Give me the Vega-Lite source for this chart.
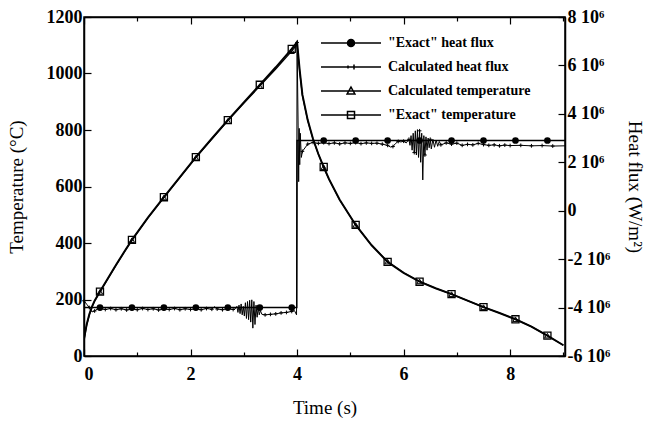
{
  "$schema": "https://vega.github.io/schema/vega-lite/v6.json",
  "width": 481,
  "height": 339,
  "autosize": {"type": "none"},
  "padding": {"left": 84, "top": 17, "right": 82, "bottom": 65},
  "background": "white",
  "config": {
    "font": "Liberation Serif",
    "view": {"stroke": "black", "strokeWidth": 1.5},
    "axis": {
      "grid": false,
      "domainColor": "black",
      "domainWidth": 1.5,
      "tickColor": "black",
      "tickWidth": 1.2,
      "labelFont": "Liberation Serif",
      "labelFontWeight": "bold",
      "labelFontSize": 18,
      "labelColor": "black",
      "titleFont": "Liberation Serif",
      "titleFontWeight": "normal",
      "titleFontSize": 19,
      "titleColor": "black"
    },
    "legend": {
      "orient": "none", "legendX": 236, "legendY": 18, "title": null, "padding": 0,
      "symbolSize": 3600, "symbolStrokeWidth": 1.5, "symbolStrokeColor": "black",
      "labelFont": "Liberation Serif", "labelFontWeight": "bold", "labelFontSize": 14, "labelColor": "black",
      "labelOffset": 6, "rowPadding": 8, "clipHeight": 16
    }
  },
  "datasets": {
    "temp": [
      {"t": 0, "v": 60, "s": "\"Exact\" temperature"},
      {"t": 0.05, "v": 112, "s": "\"Exact\" temperature"},
      {"t": 0.1, "v": 148, "s": "\"Exact\" temperature"},
      {"t": 0.15, "v": 175, "s": "\"Exact\" temperature"},
      {"t": 0.2, "v": 196, "s": "\"Exact\" temperature"},
      {"t": 0.3, "v": 228, "s": "\"Exact\" temperature"},
      {"t": 0.45, "v": 275, "s": "\"Exact\" temperature"},
      {"t": 0.6, "v": 322, "s": "\"Exact\" temperature"},
      {"t": 0.75, "v": 367, "s": "\"Exact\" temperature"},
      {"t": 0.9, "v": 411, "s": "\"Exact\" temperature"},
      {"t": 1.2, "v": 490, "s": "\"Exact\" temperature"},
      {"t": 1.5, "v": 562, "s": "\"Exact\" temperature"},
      {"t": 1.8, "v": 633, "s": "\"Exact\" temperature"},
      {"t": 2.1, "v": 704, "s": "\"Exact\" temperature"},
      {"t": 2.4, "v": 770, "s": "\"Exact\" temperature"},
      {"t": 2.7, "v": 835, "s": "\"Exact\" temperature"},
      {"t": 3.0, "v": 898, "s": "\"Exact\" temperature"},
      {"t": 3.3, "v": 960, "s": "\"Exact\" temperature"},
      {"t": 3.6, "v": 1022, "s": "\"Exact\" temperature"},
      {"t": 3.9, "v": 1087, "s": "\"Exact\" temperature"},
      {"t": 4.0, "v": 1111, "s": "\"Exact\" temperature"},
      {"t": 4.05, "v": 1010, "s": "\"Exact\" temperature"},
      {"t": 4.1, "v": 925, "s": "\"Exact\" temperature"},
      {"t": 4.2, "v": 835, "s": "\"Exact\" temperature"},
      {"t": 4.3, "v": 768, "s": "\"Exact\" temperature"},
      {"t": 4.4, "v": 715, "s": "\"Exact\" temperature"},
      {"t": 4.5, "v": 669, "s": "\"Exact\" temperature"},
      {"t": 4.6, "v": 626, "s": "\"Exact\" temperature"},
      {"t": 4.8, "v": 553, "s": "\"Exact\" temperature"},
      {"t": 5.1, "v": 464, "s": "\"Exact\" temperature"},
      {"t": 5.4, "v": 392, "s": "\"Exact\" temperature"},
      {"t": 5.7, "v": 333, "s": "\"Exact\" temperature"},
      {"t": 6.0, "v": 294, "s": "\"Exact\" temperature"},
      {"t": 6.3, "v": 263, "s": "\"Exact\" temperature"},
      {"t": 6.6, "v": 240, "s": "\"Exact\" temperature"},
      {"t": 6.9, "v": 219, "s": "\"Exact\" temperature"},
      {"t": 7.2, "v": 196, "s": "\"Exact\" temperature"},
      {"t": 7.5, "v": 173, "s": "\"Exact\" temperature"},
      {"t": 7.8, "v": 152, "s": "\"Exact\" temperature"},
      {"t": 8.1, "v": 130, "s": "\"Exact\" temperature"},
      {"t": 8.4, "v": 104, "s": "\"Exact\" temperature"},
      {"t": 8.7, "v": 72, "s": "\"Exact\" temperature"},
      {"t": 9.0, "v": 38, "s": "\"Exact\" temperature"},
      {"t": 0, "v": 56, "s": "Calculated temperature"},
      {"t": 0.05, "v": 108, "s": "Calculated temperature"},
      {"t": 0.1, "v": 145, "s": "Calculated temperature"},
      {"t": 0.15, "v": 173, "s": "Calculated temperature"},
      {"t": 0.2, "v": 195, "s": "Calculated temperature"},
      {"t": 0.3, "v": 227, "s": "Calculated temperature"},
      {"t": 0.45, "v": 274, "s": "Calculated temperature"},
      {"t": 0.6, "v": 321, "s": "Calculated temperature"},
      {"t": 0.75, "v": 366, "s": "Calculated temperature"},
      {"t": 0.9, "v": 410, "s": "Calculated temperature"},
      {"t": 1.2, "v": 489, "s": "Calculated temperature"},
      {"t": 1.5, "v": 561, "s": "Calculated temperature"},
      {"t": 1.8, "v": 631, "s": "Calculated temperature"},
      {"t": 2.1, "v": 702, "s": "Calculated temperature"},
      {"t": 2.4, "v": 768, "s": "Calculated temperature"},
      {"t": 2.7, "v": 832, "s": "Calculated temperature"},
      {"t": 3.0, "v": 894, "s": "Calculated temperature"},
      {"t": 3.3, "v": 955, "s": "Calculated temperature"},
      {"t": 3.6, "v": 1016, "s": "Calculated temperature"},
      {"t": 3.9, "v": 1079, "s": "Calculated temperature"},
      {"t": 4.0, "v": 1103, "s": "Calculated temperature"},
      {"t": 4.05, "v": 1006, "s": "Calculated temperature"},
      {"t": 4.1, "v": 922, "s": "Calculated temperature"},
      {"t": 4.2, "v": 833, "s": "Calculated temperature"},
      {"t": 4.3, "v": 767, "s": "Calculated temperature"},
      {"t": 4.4, "v": 714, "s": "Calculated temperature"},
      {"t": 4.5, "v": 668, "s": "Calculated temperature"},
      {"t": 4.6, "v": 625, "s": "Calculated temperature"},
      {"t": 4.8, "v": 552, "s": "Calculated temperature"},
      {"t": 5.1, "v": 464, "s": "Calculated temperature"},
      {"t": 5.4, "v": 392, "s": "Calculated temperature"},
      {"t": 5.7, "v": 334, "s": "Calculated temperature"},
      {"t": 6.0, "v": 295, "s": "Calculated temperature"},
      {"t": 6.3, "v": 264, "s": "Calculated temperature"},
      {"t": 6.6, "v": 240, "s": "Calculated temperature"},
      {"t": 6.9, "v": 219, "s": "Calculated temperature"},
      {"t": 7.2, "v": 196, "s": "Calculated temperature"},
      {"t": 7.5, "v": 173, "s": "Calculated temperature"},
      {"t": 7.8, "v": 152, "s": "Calculated temperature"},
      {"t": 8.1, "v": 130, "s": "Calculated temperature"},
      {"t": 8.4, "v": 104, "s": "Calculated temperature"},
      {"t": 8.7, "v": 72, "s": "Calculated temperature"},
      {"t": 9.0, "v": 38, "s": "Calculated temperature"}
    ],
    "flux": [
      {"t": 0, "v": -4.0, "s": "\"Exact\" heat flux"},
      {"t": 0.3, "v": -4.0, "s": "\"Exact\" heat flux"},
      {"t": 0.9, "v": -4.0, "s": "\"Exact\" heat flux"},
      {"t": 1.5, "v": -4.0, "s": "\"Exact\" heat flux"},
      {"t": 2.1, "v": -4.0, "s": "\"Exact\" heat flux"},
      {"t": 2.7, "v": -4.0, "s": "\"Exact\" heat flux"},
      {"t": 3.3, "v": -4.0, "s": "\"Exact\" heat flux"},
      {"t": 3.9, "v": -4.0, "s": "\"Exact\" heat flux"},
      {"t": 3.995, "v": -4.0, "s": "\"Exact\" heat flux"},
      {"t": 4.0, "v": 2.9, "s": "\"Exact\" heat flux"},
      {"t": 4.5, "v": 2.9, "s": "\"Exact\" heat flux"},
      {"t": 5.1, "v": 2.9, "s": "\"Exact\" heat flux"},
      {"t": 5.7, "v": 2.9, "s": "\"Exact\" heat flux"},
      {"t": 6.3, "v": 2.9, "s": "\"Exact\" heat flux"},
      {"t": 6.9, "v": 2.9, "s": "\"Exact\" heat flux"},
      {"t": 7.5, "v": 2.9, "s": "\"Exact\" heat flux"},
      {"t": 8.1, "v": 2.9, "s": "\"Exact\" heat flux"},
      {"t": 8.7, "v": 2.9, "s": "\"Exact\" heat flux"},
      {"t": 9.03, "v": 2.9, "s": "\"Exact\" heat flux"},
      {"t": 0, "v": -3.72, "s": "Calculated heat flux"},
      {"t": 0.05, "v": -3.86, "s": "Calculated heat flux"},
      {"t": 0.1, "v": -4.0, "s": "Calculated heat flux"},
      {"t": 0.15, "v": -4.18, "s": "Calculated heat flux"},
      {"t": 0.2, "v": -4.14, "s": "Calculated heat flux"},
      {"t": 0.25, "v": -4.06, "s": "Calculated heat flux"},
      {"t": 0.3, "v": -4.03, "s": "Calculated heat flux"},
      {"t": 0.4, "v": -4.08, "s": "Calculated heat flux"},
      {"t": 0.5, "v": -4.04, "s": "Calculated heat flux"},
      {"t": 0.6, "v": -4.09, "s": "Calculated heat flux"},
      {"t": 0.7, "v": -4.05, "s": "Calculated heat flux"},
      {"t": 0.8, "v": -4.1, "s": "Calculated heat flux"},
      {"t": 0.9, "v": -4.06, "s": "Calculated heat flux"},
      {"t": 1.0, "v": -4.09, "s": "Calculated heat flux"},
      {"t": 1.1, "v": -4.04, "s": "Calculated heat flux"},
      {"t": 1.2, "v": -4.08, "s": "Calculated heat flux"},
      {"t": 1.3, "v": -4.05, "s": "Calculated heat flux"},
      {"t": 1.4, "v": -4.1, "s": "Calculated heat flux"},
      {"t": 1.5, "v": -4.06, "s": "Calculated heat flux"},
      {"t": 1.6, "v": -4.08, "s": "Calculated heat flux"},
      {"t": 1.7, "v": -4.04, "s": "Calculated heat flux"},
      {"t": 1.8, "v": -4.09, "s": "Calculated heat flux"},
      {"t": 1.9, "v": -4.05, "s": "Calculated heat flux"},
      {"t": 2.0, "v": -4.08, "s": "Calculated heat flux"},
      {"t": 2.1, "v": -4.05, "s": "Calculated heat flux"},
      {"t": 2.2, "v": -4.09, "s": "Calculated heat flux"},
      {"t": 2.3, "v": -4.04, "s": "Calculated heat flux"},
      {"t": 2.4, "v": -4.07, "s": "Calculated heat flux"},
      {"t": 2.45, "v": -3.96, "s": "Calculated heat flux"},
      {"t": 2.5, "v": -4.06, "s": "Calculated heat flux"},
      {"t": 2.6, "v": -4.09, "s": "Calculated heat flux"},
      {"t": 2.7, "v": -4.04, "s": "Calculated heat flux"},
      {"t": 2.8, "v": -4.08, "s": "Calculated heat flux"},
      {"t": 2.84, "v": -4.05, "s": "Calculated heat flux"},
      {"t": 2.87, "v": -3.95, "s": "Calculated heat flux"},
      {"t": 2.89, "v": -4.2, "s": "Calculated heat flux"},
      {"t": 2.91, "v": -3.9, "s": "Calculated heat flux"},
      {"t": 2.93, "v": -4.25, "s": "Calculated heat flux"},
      {"t": 2.95, "v": -3.85, "s": "Calculated heat flux"},
      {"t": 2.97, "v": -4.3, "s": "Calculated heat flux"},
      {"t": 2.99, "v": -3.95, "s": "Calculated heat flux"},
      {"t": 3.01, "v": -4.35, "s": "Calculated heat flux"},
      {"t": 3.03, "v": -3.8, "s": "Calculated heat flux"},
      {"t": 3.05, "v": -4.45, "s": "Calculated heat flux"},
      {"t": 3.07, "v": -3.75, "s": "Calculated heat flux"},
      {"t": 3.09, "v": -4.5, "s": "Calculated heat flux"},
      {"t": 3.11, "v": -3.7, "s": "Calculated heat flux"},
      {"t": 3.13, "v": -4.6, "s": "Calculated heat flux"},
      {"t": 3.15, "v": -3.68, "s": "Calculated heat flux"},
      {"t": 3.17, "v": -4.85, "s": "Calculated heat flux"},
      {"t": 3.19, "v": -3.75, "s": "Calculated heat flux"},
      {"t": 3.21, "v": -4.7, "s": "Calculated heat flux"},
      {"t": 3.23, "v": -3.9, "s": "Calculated heat flux"},
      {"t": 3.25, "v": -4.4, "s": "Calculated heat flux"},
      {"t": 3.27, "v": -4.0, "s": "Calculated heat flux"},
      {"t": 3.29, "v": -4.3, "s": "Calculated heat flux"},
      {"t": 3.31, "v": -4.12, "s": "Calculated heat flux"},
      {"t": 3.34, "v": -4.28, "s": "Calculated heat flux"},
      {"t": 3.4, "v": -4.3, "s": "Calculated heat flux"},
      {"t": 3.5, "v": -4.28, "s": "Calculated heat flux"},
      {"t": 3.6, "v": -4.26, "s": "Calculated heat flux"},
      {"t": 3.7, "v": -4.22, "s": "Calculated heat flux"},
      {"t": 3.8, "v": -4.2, "s": "Calculated heat flux"},
      {"t": 3.9, "v": -4.16, "s": "Calculated heat flux"},
      {"t": 3.95, "v": -4.12, "s": "Calculated heat flux"},
      {"t": 3.99, "v": -4.3, "s": "Calculated heat flux"},
      {"t": 4.0, "v": 6.95, "s": "Calculated heat flux"},
      {"t": 4.02, "v": 3.5, "s": "Calculated heat flux"},
      {"t": 4.03, "v": 1.2, "s": "Calculated heat flux"},
      {"t": 4.04, "v": 3.4, "s": "Calculated heat flux"},
      {"t": 4.05, "v": 1.9, "s": "Calculated heat flux"},
      {"t": 4.06, "v": 3.2, "s": "Calculated heat flux"},
      {"t": 4.08, "v": 2.2, "s": "Calculated heat flux"},
      {"t": 4.1, "v": 2.45, "s": "Calculated heat flux"},
      {"t": 4.2, "v": 2.75, "s": "Calculated heat flux"},
      {"t": 4.3, "v": 2.82, "s": "Calculated heat flux"},
      {"t": 4.4, "v": 2.78, "s": "Calculated heat flux"},
      {"t": 4.5, "v": 2.81, "s": "Calculated heat flux"},
      {"t": 4.6, "v": 2.77, "s": "Calculated heat flux"},
      {"t": 4.7, "v": 2.8, "s": "Calculated heat flux"},
      {"t": 4.8, "v": 2.76, "s": "Calculated heat flux"},
      {"t": 4.9, "v": 2.8, "s": "Calculated heat flux"},
      {"t": 5.0, "v": 2.78, "s": "Calculated heat flux"},
      {"t": 5.1, "v": 2.81, "s": "Calculated heat flux"},
      {"t": 5.2, "v": 2.77, "s": "Calculated heat flux"},
      {"t": 5.3, "v": 2.8, "s": "Calculated heat flux"},
      {"t": 5.4, "v": 2.78, "s": "Calculated heat flux"},
      {"t": 5.5, "v": 2.79, "s": "Calculated heat flux"},
      {"t": 5.6, "v": 2.75, "s": "Calculated heat flux"},
      {"t": 5.7, "v": 2.7, "s": "Calculated heat flux"},
      {"t": 5.75, "v": 2.63, "s": "Calculated heat flux"},
      {"t": 5.8, "v": 2.65, "s": "Calculated heat flux"},
      {"t": 5.85, "v": 2.78, "s": "Calculated heat flux"},
      {"t": 5.9, "v": 2.86, "s": "Calculated heat flux"},
      {"t": 5.95, "v": 2.84, "s": "Calculated heat flux"},
      {"t": 6.0, "v": 2.87, "s": "Calculated heat flux"},
      {"t": 6.05, "v": 2.8, "s": "Calculated heat flux"},
      {"t": 6.1, "v": 2.95, "s": "Calculated heat flux"},
      {"t": 6.12, "v": 2.7, "s": "Calculated heat flux"},
      {"t": 6.14, "v": 3.1, "s": "Calculated heat flux"},
      {"t": 6.16, "v": 2.5, "s": "Calculated heat flux"},
      {"t": 6.18, "v": 3.2, "s": "Calculated heat flux"},
      {"t": 6.2, "v": 2.4, "s": "Calculated heat flux"},
      {"t": 6.22, "v": 3.3, "s": "Calculated heat flux"},
      {"t": 6.24, "v": 2.3, "s": "Calculated heat flux"},
      {"t": 6.26, "v": 3.35, "s": "Calculated heat flux"},
      {"t": 6.28, "v": 2.2, "s": "Calculated heat flux"},
      {"t": 6.3, "v": 3.3, "s": "Calculated heat flux"},
      {"t": 6.32, "v": 2.0, "s": "Calculated heat flux"},
      {"t": 6.34, "v": 3.2, "s": "Calculated heat flux"},
      {"t": 6.36, "v": 1.27, "s": "Calculated heat flux"},
      {"t": 6.38, "v": 3.1, "s": "Calculated heat flux"},
      {"t": 6.4, "v": 2.3, "s": "Calculated heat flux"},
      {"t": 6.42, "v": 3.05, "s": "Calculated heat flux"},
      {"t": 6.44, "v": 2.5, "s": "Calculated heat flux"},
      {"t": 6.46, "v": 3.0, "s": "Calculated heat flux"},
      {"t": 6.48, "v": 2.6, "s": "Calculated heat flux"},
      {"t": 6.5, "v": 2.95, "s": "Calculated heat flux"},
      {"t": 6.52, "v": 2.55, "s": "Calculated heat flux"},
      {"t": 6.55, "v": 2.95, "s": "Calculated heat flux"},
      {"t": 6.58, "v": 2.62, "s": "Calculated heat flux"},
      {"t": 6.61, "v": 2.92, "s": "Calculated heat flux"},
      {"t": 6.64, "v": 2.66, "s": "Calculated heat flux"},
      {"t": 6.67, "v": 2.86, "s": "Calculated heat flux"},
      {"t": 6.7, "v": 2.72, "s": "Calculated heat flux"},
      {"t": 6.8, "v": 2.8, "s": "Calculated heat flux"},
      {"t": 6.9, "v": 2.75, "s": "Calculated heat flux"},
      {"t": 7.0, "v": 2.79, "s": "Calculated heat flux"},
      {"t": 7.1, "v": 2.7, "s": "Calculated heat flux"},
      {"t": 7.2, "v": 2.74, "s": "Calculated heat flux"},
      {"t": 7.3, "v": 2.72, "s": "Calculated heat flux"},
      {"t": 7.4, "v": 2.78, "s": "Calculated heat flux"},
      {"t": 7.5, "v": 2.73, "s": "Calculated heat flux"},
      {"t": 7.6, "v": 2.7, "s": "Calculated heat flux"},
      {"t": 7.7, "v": 2.72, "s": "Calculated heat flux"},
      {"t": 7.8, "v": 2.68, "s": "Calculated heat flux"},
      {"t": 7.9, "v": 2.71, "s": "Calculated heat flux"},
      {"t": 8.0, "v": 2.69, "s": "Calculated heat flux"},
      {"t": 8.2, "v": 2.7, "s": "Calculated heat flux"},
      {"t": 8.4, "v": 2.68, "s": "Calculated heat flux"},
      {"t": 8.6, "v": 2.69, "s": "Calculated heat flux"},
      {"t": 8.8, "v": 2.67, "s": "Calculated heat flux"},
      {"t": 9.03, "v": 2.68, "s": "Calculated heat flux"}
    ]
  },
  "layer": [
    {
      "data": {"name": "temp"},
      "layer": [
        {
          "mark": {"type": "line", "color": "black", "clip": true},
          "encoding": {
            "x": {"field": "t", "type": "quantitative", "scale": {"domain": [0, 9.03], "nice": false, "zero": false},
              "axis": {"orient": "bottom", "title": "Time (s)", "values": [0,0.5,1,1.5,2,2.5,3,3.5,4,4.5,5,5.5,6,6.5,7,7.5,8,8.5,9],
                "labelExpr": "datum.value % 2 === 0 ? '' + datum.value : ''",
                "tickSize": {"condition": {"test": "datum.value % 2 === 0", "value": -7}, "value": -4},
                "labelPadding": 16, "titlePadding": 15}},
            "y": {"field": "v", "type": "quantitative", "scale": {"domain": [0, 1200], "nice": false},
              "axis": {"orient": "left", "title": "Temperature (°C)", "values": [0,50,100,150,200,250,300,350,400,450,500,550,600,650,700,750,800,850,900,950,1000,1050,1100,1150,1200],
                "labelExpr": "datum.value % 200 === 0 ? '' + datum.value : ''",
                "tickSize": {"condition": {"test": "datum.value % 200 === 0", "value": -7}, "value": -4},
                "labelPadding": 9, "titlePadding": 20}},
            "detail": {"field": "s"},
            "strokeWidth": {"condition": {"test": "datum.s === 'Calculated temperature'", "value": 1.2}, "value": 2}
          }
        },
        {
          "transform": [{"filter": "indexof(datum.s,'Exact') >= 0 && indexof([0.3,0.9,1.5,2.1,2.7,3.3,3.9,4.5,5.1,5.7,6.3,6.9,7.5,8.1,8.7], datum.t) >= 0"}],
          "mark": {"type": "point", "shape": "square", "filled": false, "stroke": "black", "strokeWidth": 1.3, "size": 50, "opacity": 1},
          "encoding": {
            "x": {"field": "t", "type": "quantitative"},
            "y": {"field": "v", "type": "quantitative"}
          }
        },
        {
          "transform": [{"filter": "indexof(datum.s,'Calc') >= 0 && indexof([0.3,0.9,1.5,2.1,2.7,3.3,3.9,4.5,5.1,5.7,6.3,6.9,7.5,8.1,8.7], datum.t) >= 0"}],
          "mark": {"type": "point", "shape": "triangle-up", "filled": false, "stroke": "black", "strokeWidth": 1, "size": 28, "opacity": 1},
          "encoding": {
            "x": {"field": "t", "type": "quantitative"},
            "y": {"field": "v", "type": "quantitative"}
          }
        }
      ]
    },
    {
      "data": {"name": "flux"},
      "layer": [
        {
          "mark": {"type": "line", "color": "black", "clip": true},
          "encoding": {
            "x": {"field": "t", "type": "quantitative", "scale": {"domain": [0, 9.03], "nice": false, "zero": false},
              "axis": {"orient": "top", "title": null, "labels": false, "values": [0,0.5,1,1.5,2,2.5,3,3.5,4,4.5,5,5.5,6,6.5,7,7.5,8,8.5,9],
                "tickSize": {"condition": {"test": "datum.value % 2 === 0", "value": -7}, "value": -4}}},
            "y": {"field": "v", "type": "quantitative", "scale": {"domain": [-6, 8], "nice": false, "zero": false},
              "axis": {"orient": "right", "title": "Heat flux (W/m²)", "values": [-6,-5.5,-5,-4.5,-4,-3.5,-3,-2.5,-2,-1.5,-1,-0.5,0,0.5,1,1.5,2,2.5,3,3.5,4,4.5,5,5.5,6,6.5,7,7.5,8],
                "labelExpr": "datum.value === 0 ? '0' : (datum.value % 2 === 0 ? datum.value + ' 10⁶' : '')",
                "tickSize": {"condition": {"test": "datum.value % 2 === 0", "value": -7}, "value": -4},
                "labelPadding": 9, "titlePadding": 15}},
            "detail": {"field": "s"},
            "strokeWidth": {"condition": {"test": "datum.s === 'Calculated heat flux'", "value": 1}, "value": 1.5}
          }
        },
        {
          "transform": [{"filter": "indexof(datum.s,'Exact') >= 0 && indexof([0.3,0.9,1.5,2.1,2.7,3.3,3.9,4.5,5.1,5.7,6.3,6.9,7.5,8.1,8.7], datum.t) >= 0"}],
          "mark": {"type": "point", "shape": "circle", "filled": true, "color": "black", "size": 45, "opacity": 1},
          "encoding": {
            "x": {"field": "t", "type": "quantitative"},
            "y": {"field": "v", "type": "quantitative"}
          }
        },
        {
          "transform": [{"filter": "indexof(datum.s,'Calc') >= 0 && abs(datum.t*10 - round(datum.t*10)) < 0.001"}],
          "mark": {"type": "point", "shape": "M-1,0H1M0,-1V1", "filled": false, "stroke": "black", "strokeWidth": 1, "size": 14, "opacity": 1},
          "encoding": {
            "x": {"field": "t", "type": "quantitative"},
            "y": {"field": "v", "type": "quantitative"}
          }
        }
      ]
    },
    {
      "data": {"name": "flux"},
      "transform": [{"filter": "false"}],
      "mark": {"type": "point", "strokeWidth": 1.5, "opacity": 1},
      "encoding": {
        "shape": {"field": "s", "type": "nominal",
          "scale": {"domain": ["\"Exact\" heat flux", "Calculated heat flux", "Calculated temperature", "\"Exact\" temperature"],
                    "range": ["M-1,0H1M-0.117,0A0.117,0.117,0,1,0,0.117,0A0.117,0.117,0,1,0,-0.117,0Z", "M-1,0H1M0.1,-0.08V0.08M-0.1,-0.05V0.05", "M-1,0H1M0,-0.13L0.13,0.1L-0.13,0.1Z", "M-1,0H1M-0.117,-0.117H0.117V0.117H-0.117Z"]}},
        "fill": {"field": "s", "type": "nominal",
          "scale": {"domain": ["\"Exact\" heat flux", "Calculated heat flux", "Calculated temperature", "\"Exact\" temperature"],
                    "range": ["black", "transparent", "transparent", "transparent"]}},
        "stroke": {"field": "s", "type": "nominal",
          "scale": {"domain": ["\"Exact\" heat flux", "Calculated heat flux", "Calculated temperature", "\"Exact\" temperature"],
                    "range": ["black", "black", "black", "black"]}}
      }
    }
  ],
  "resolve": {"scale": {"y": "independent"}, "axis": {"x": "independent", "y": "independent"}}
}
